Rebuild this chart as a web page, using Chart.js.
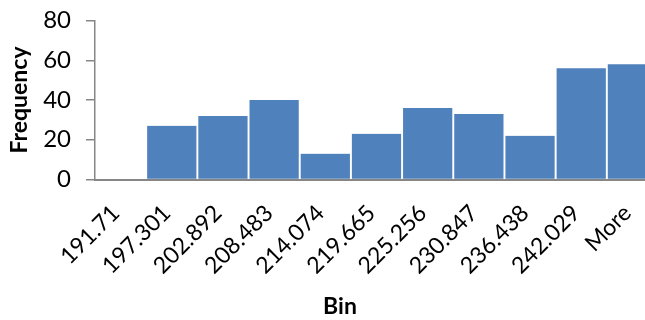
<!DOCTYPE html>
<html>
<head>
<meta charset="utf-8">
<script src="https://cdn.jsdelivr.net/npm/chart.js@4"></script>
<style>
  html, body { margin: 0; padding: 0; background: #fff; overflow: hidden; }
  #wrap { width: 645px; height: 320px; overflow: hidden; }
  canvas { display: block; }
</style>
</head>
<body>
<div id="wrap"><canvas id="c" width="658" height="320"></canvas></div>
<script>
// Histogram bins (upper bin edges) and counts
const bins = ['191.71', '197.301', '202.892', '208.483', '214.074', '219.665',
              '225.256', '230.847', '236.438', '242.029', 'More'];
const frequency = [0, 27, 32, 40, 13, 23, 36, 33, 22, 56, 58];
const yTicks = [0, 20, 40, 60, 80];

const FONT = 'Lato, Carlito, Calibri, "Open Sans", sans-serif';
const AXIS_GREY = '#868686';

// x-axis caption drawn under the rotated bin labels
const binCaption = {
  id: 'binCaption',
  afterDraw(chart) {
    const ctx = chart.ctx;
    ctx.save();
    ctx.font = 'bold 23px ' + FONT;
    ctx.fillStyle = '#000';
    ctx.textAlign = 'center';
    ctx.textBaseline = 'middle';
    ctx.fillText('Bin', 340, 307);
    ctx.restore();
  }
};

new Chart(document.getElementById('c'), {
  type: 'bar',
  data: {
    labels: bins,
    datasets: [{
      label: 'Frequency',
      data: frequency,
      backgroundColor: '#4F81BD',
      borderColor: '#ffffff',
      borderWidth: { left: 1.3, right: 1.3, top: 0, bottom: 0 },
      borderSkipped: false,
      barPercentage: 1,
      categoryPercentage: 1
    }]
  },
  options: {
    responsive: false,
    animation: false,
    devicePixelRatio: 1,
    layout: { padding: { top: 20.5, right: 0, bottom: 0, left: 0 } },
    plugins: { legend: { display: false }, tooltip: { enabled: false } },
    scales: {
      x: {
        grid: { display: false, drawTicks: false },
        border: { display: true, color: AXIS_GREY, width: 2 },
        ticks: {
          font: { family: FONT, size: 23 },
          color: '#000',
          minRotation: 45,
          maxRotation: 45,
          autoSkip: false,
          padding: 20,
          labelOffset: -5
        },
        afterFit(scale) {
          scale.height = 140.5;
          scale.paddingLeft = 0;
          scale.paddingRight = 0;
        }
      },
      y: {
        min: 0,
        max: 80,
        afterBuildTicks(scale) { scale.ticks = yTicks.map(v => ({ value: v })); },
        grid: {
          display: true,
          drawOnChartArea: false,
          drawTicks: true,
          tickLength: 9,
          color: AXIS_GREY,
          lineWidth: 1.5
        },
        border: { display: true, color: AXIS_GREY, width: 1.5 },
        ticks: {
          font: { family: FONT, size: 24 },
          color: '#000',
          padding: 15
        },
        title: {
          display: true,
          text: 'Frequency',
          font: { family: FONT, size: 23, weight: 'bold' },
          color: '#000',
          padding: { top: 6, bottom: 0 }
        },
        afterFit(scale) {
          scale.width = 95;
          scale.paddingTop = 0;
          scale.paddingBottom = 0;
        }
      }
    }
  },
  plugins: [binCaption]
});
</script>
</body>
</html>
